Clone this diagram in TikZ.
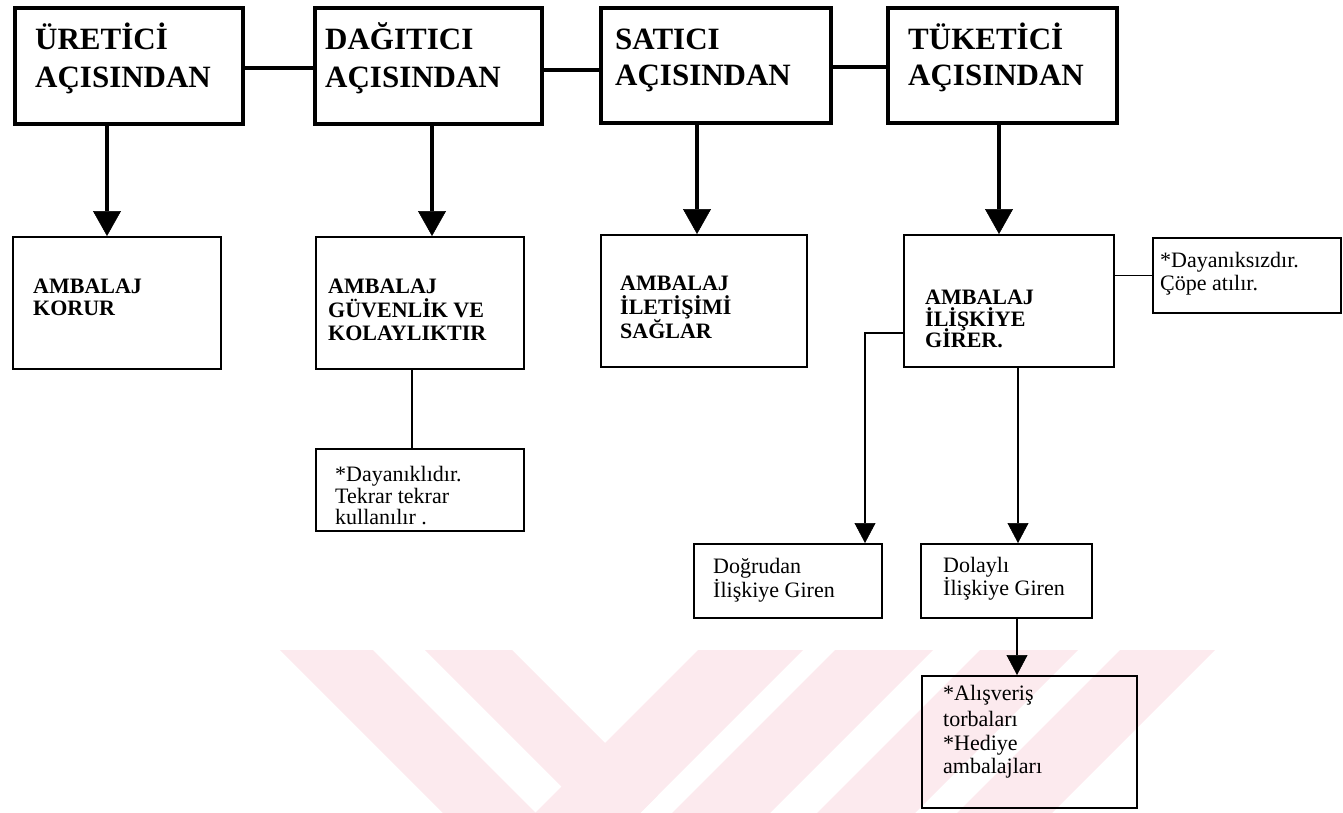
\documentclass[tikz,border=0pt]{standalone}
\usepackage{fontspec}
\setmainfont{Liberation Serif}
\usetikzlibrary{arrows.meta}
\definecolor{wm}{RGB}{252,234,238}
\begin{document}
\begin{tikzpicture}[x=1pt,y=-1pt,
  hbox/.style={draw, line width=4pt, inner sep=0, anchor=north west},
  mbox/.style={draw, line width=1.5pt, inner sep=0, anchor=north west},
  thk/.style={line width=4pt},
  thn/.style={line width=1.5pt},
  tarr/.style={line width=3.5pt, -{Triangle[width=28pt,length=25pt,line width=0.5pt]}},
  sarr/.style={line width=1.5pt, -{Triangle[width=21pt,length=20pt,line width=0.5pt]}},
  htx/.style={font=\fontsize{31}{37}\selectfont\bfseries, inner sep=0, anchor=base west},
  mtx/.style={font=\fontsize{22}{24}\selectfont\bfseries, inner sep=0, anchor=base west},
  stx/.style={font=\fontsize{22}{24}\selectfont, inner sep=0, anchor=base west}]
\useasboundingbox (0,0) rectangle (1343,813);
% watermark
\fill[wm] (280,650) -- (373,650) -- (536,813) -- (443,813) -- cycle;
\fill[wm] (425,650) -- (512,650) -- (657.5,795.5) -- (640,813) -- (588,813) -- cycle;
\fill[wm] (698,650) -- (803,650) -- (640,813) -- (535,813) -- cycle;
\fill[wm] (835,650) -- (933,650) -- (770,813) -- (672,813) -- cycle;
\fill[wm] (980,650) -- (1078,650) -- (915,813) -- (817,813) -- cycle;
\fill[wm] (1120,650) -- (1215,650) -- (1052,813) -- (957,813) -- cycle;

% top boxes
\node[hbox, minimum width=228pt, minimum height=116pt] (ure) at (13,6) {};
\node[hbox, minimum width=227pt, minimum height=116pt] (dag) at (313,6) {};
\node[hbox, minimum width=230pt, minimum height=115pt] (sat) at (599,6) {};
\node[hbox, minimum width=229pt, minimum height=115pt] (tuk) at (886,6) {};
\node[htx] (ure1) at (35,50) {ÜRETİCİ};
\node[htx] (ure2) at (35,88) {AÇISINDAN};
\node[htx] (dag1) at (325,50) {DAĞITICI};
\node[htx] (dag2) at (325,88) {AÇISINDAN};
\node[htx] (sat1) at (615,50) {SATICI};
\node[htx] (sat2) at (615,86) {AÇISINDAN};
\node[htx] (tuk1) at (908,50) {TÜKETİCİ};
\node[htx] (tuk2) at (908,86) {AÇISINDAN};

% second row boxes
\node[mbox, minimum width=208pt, minimum height=132pt] (kor) at (12,236) {};
\node[mbox, minimum width=208pt, minimum height=132pt] (guv) at (315,236) {};
\node[mbox, minimum width=206pt, minimum height=132pt] (ile) at (600,234) {};
\node[mbox, minimum width=210pt, minimum height=132pt] (gir) at (903,234) {};
\node[mbox, minimum width=188pt, minimum height=75pt] (dsz) at (1152,237) {};
\node[mbox, minimum width=208pt, minimum height=82pt] (dkl) at (315,448) {};
\node[mbox, minimum width=188pt, minimum height=74pt] (dog) at (693,543) {};
\node[mbox, minimum width=171pt, minimum height=74pt] (dol) at (920,543) {};
\node[mbox, minimum width=215pt, minimum height=132pt] (alv) at (921,675) {};

\node[mtx] (kor1) at (33,293) {AMBALAJ};
\node[mtx] (kor2) at (33,315) {KORUR};
\node[mtx] (guv1) at (328,293) {AMBALAJ};
\node[mtx] (guv2) at (328,317) {GÜVENLİK VE};
\node[mtx] (guv3) at (328,340) {KOLAYLIKTIR};
\node[mtx] (ile1) at (620,290) {AMBALAJ};
\node[mtx] (ile2) at (620,314) {İLETİŞİMİ};
\node[mtx] (ile3) at (620,338) {SAĞLAR};
\node[mtx] (gir1) at (925,304) {AMBALAJ};
\node[mtx] (gir2) at (925,326) {İLİŞKİYE};
\node[mtx] (gir3) at (925,347) {GİRER.};

\node[stx] (dsz1) at (1160,267) {*Dayanıksızdır.};
\node[stx] (dsz2) at (1160,290) {Çöpe atılır.};
\node[stx] (dkl1) at (335,481) {*Dayanıklıdır.};
\node[stx] (dkl2) at (335,503) {Tekrar tekrar};
\node[stx] (dkl3) at (335,524) {kullanılır .};
\node[stx] (dog1) at (713,573) {Doğrudan};
\node[stx] (dog2) at (713,597) {İlişkiye Giren};
\node[stx] (dol1) at (943,572) {Dolaylı};
\node[stx] (dol2) at (943,595) {İlişkiye Giren};
\node[stx] (alv1) at (943,700) {*Alışveriş};
\node[stx] (alv2) at (943,726) {torbaları};
\node[stx] (alv3) at (943,750) {*Hediye};
\node[stx] (alv4) at (943,773) {ambalajları};

% helper coordinates
\coordinate (h1) at (0,68);
\coordinate (h2) at (0,70);
\coordinate (h3) at (0,67);
\coordinate (v1) at (107,0);
\coordinate (v2) at (432,0);
\coordinate (v3) at (697,0);
\coordinate (v4) at (999,0);
\coordinate (v5) at (412,0);
\coordinate (v6) at (865,0);
\coordinate (v7) at (1018,0);
\coordinate (v8) at (1017,0);
\coordinate (h4) at (0,333);

% connectors
\draw[thk] (ure.east |- h1) -- (dag.west |- h1);
\draw[thk] (dag.east |- h2) -- (sat.west |- h2);
\draw[thk] (sat.east |- h3) -- (tuk.west |- h3);
\draw[tarr] (ure.south -| v1) -- (kor.north -| v1);
\draw[tarr] (dag.south -| v2) -- (guv.north -| v2);
\draw[tarr] (sat.south -| v3) -- (ile.north -| v3);
\draw[tarr] (tuk.south -| v4) -- (gir.north -| v4);
\draw[thn] (guv.south -| v5) -- (dkl.north -| v5);
\draw[thn] (dsz.west) -- (dsz.west -| gir.east);
\draw[sarr] (gir.west |- h4) -| (dog.north -| v6);
\draw[sarr] (gir.south -| v7) -- (dol.north -| v7);
\draw[sarr] (dol.south -| v8) -- (alv.north -| v8);
\end{tikzpicture}
\end{document}
